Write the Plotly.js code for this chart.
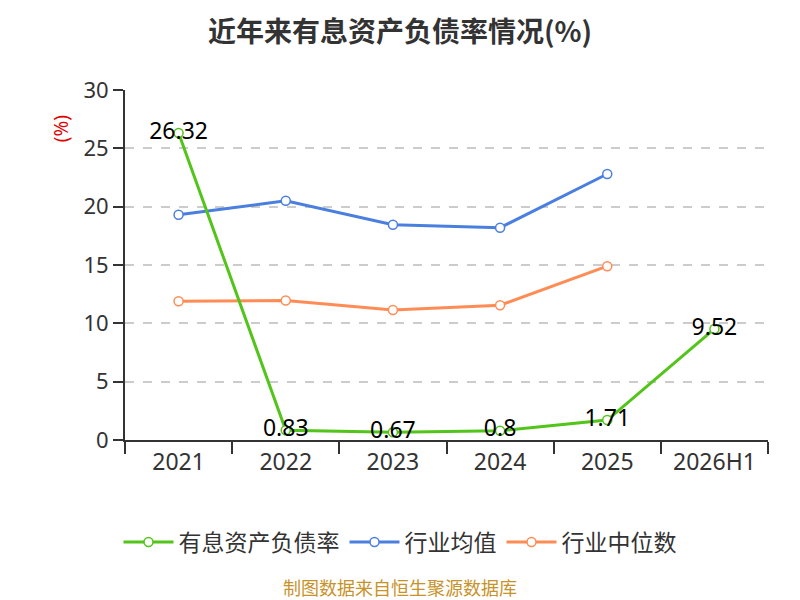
<!DOCTYPE html>
<html>
<head>
<meta charset="utf-8">
<script src="https://cdn.plot.ly/plotly-3.0.1.min.js"></script>
<style>
  body { margin: 0; background: #fff; }
  #chart { width: 800px; height: 600px; }
</style>
</head>
<body>
<div id="chart"></div>
<script>
const categories = ["2021", "2022", "2023", "2024", "2025", "2026H1"];
const debtRatio = [26.32, 0.83, 0.67, 0.8, 1.71, 9.52];
const industryAvg = [19.3, 20.5, 18.45, 18.2, 22.8];
const industryMedian = [11.9, 11.95, 11.15, 11.55, 14.9];
const yTicks = [0, 5, 10, 15, 20, 25, 30];

function lineTrace(name, values, color, rank, withText) {
  const t = {
    x: categories.slice(0, values.length),
    y: values,
    name: name,
    legendrank: rank,
    type: "scatter",
    mode: withText ? "lines+markers+text" : "lines+markers",
    line: { color: color, width: 3 },
    marker: {
      symbol: "circle",
      size: 9,
      color: "#ffffff",
      line: { color: color, width: 1.5 },
    },
    hoverinfo: "x+y",
  };
  if (withText) {
    t.text = values.map(String);
    t.textposition = "middle center";
    t.textfont = { family: "Noto Sans, DejaVu Sans", size: 23, color: "#000" };
  }
  return t;
}

// labelled series last so it is drawn on top; legendrank keeps legend order
const data = [
  lineTrace("行业均值", industryAvg, "#4a7fe0", 2, false),
  lineTrace("行业中位数", industryMedian, "#ff8c55", 3, false),
  lineTrace("有息资产负债率", debtRatio, "#52c41a", 1, true),
];

// page centre expressed in plot-area (paper) coordinates
const pageCentre = (400 - 125) / (800 - 125 - 32);

const layout = {
  width: 800,
  height: 600,
  title: {
    text: "<b>近年来有息资产负债率情况(%)</b>",
    x: 0.5,
    y: 0.963,
    xanchor: "center",
    font: { family: "Noto Sans CJK SC", size: 28, color: "#333" },
  },
  margin: { l: 125, r: 32, t: 90, b: 160 },
  paper_bgcolor: "#fff",
  plot_bgcolor: "#fff",
  font: { family: "Noto Sans, Noto Sans CJK SC", color: "#333" },
  showlegend: true,
  legend: {
    orientation: "h",
    x: pageCentre,
    xanchor: "center",
    y: -0.23,
    yanchor: "top",
    font: { family: "Noto Sans CJK SC", size: 23, color: "#333" },
    itemwidth: 50,
    traceorder: "normal",
  },
  xaxis: {
    type: "category",
    categoryorder: "array",
    categoryarray: categories,
    range: [-0.5, 5.5],
    showline: true,
    linecolor: "#333",
    linewidth: 2,
    ticks: "outside",
    tickson: "boundaries",
    ticklen: 12,
    tickwidth: 2,
    tickcolor: "#333",
    showgrid: false,
    zeroline: false,
    tickfont: { size: 23, color: "#333" },
    fixedrange: true,
  },
  yaxis: {
    range: [0, 30],
    tickvals: yTicks,
    showline: true,
    linecolor: "#333",
    linewidth: 2,
    ticks: "outside",
    ticklen: 10,
    tickwidth: 2,
    tickcolor: "#333",
    showgrid: true,
    gridcolor: "#cccccc",
    griddash: "dash",
    gridwidth: 1.5,
    zeroline: false,
    tickfont: { size: 22, color: "#333" },
    fixedrange: true,
  },
  annotations: [
    {
      text: "(%)",
      xref: "paper",
      yref: "paper",
      x: -0.1,
      y: 0.89,
      xanchor: "center",
      yanchor: "middle",
      textangle: -90,
      showarrow: false,
      font: { size: 19, color: "#e00000" },
    },
    {
      text: "制图数据来自恒生聚源数据库",
      xref: "paper",
      yref: "paper",
      x: pageCentre,
      y: -0.42,
      xanchor: "center",
      yanchor: "middle",
      showarrow: false,
      font: { family: "Noto Sans CJK SC", size: 18, color: "#c8922a" },
    },
  ],
};

const config = { displayModeBar: false, responsive: false };

Plotly.newPlot("chart", data, layout, config);
</script>
</body>
</html>
